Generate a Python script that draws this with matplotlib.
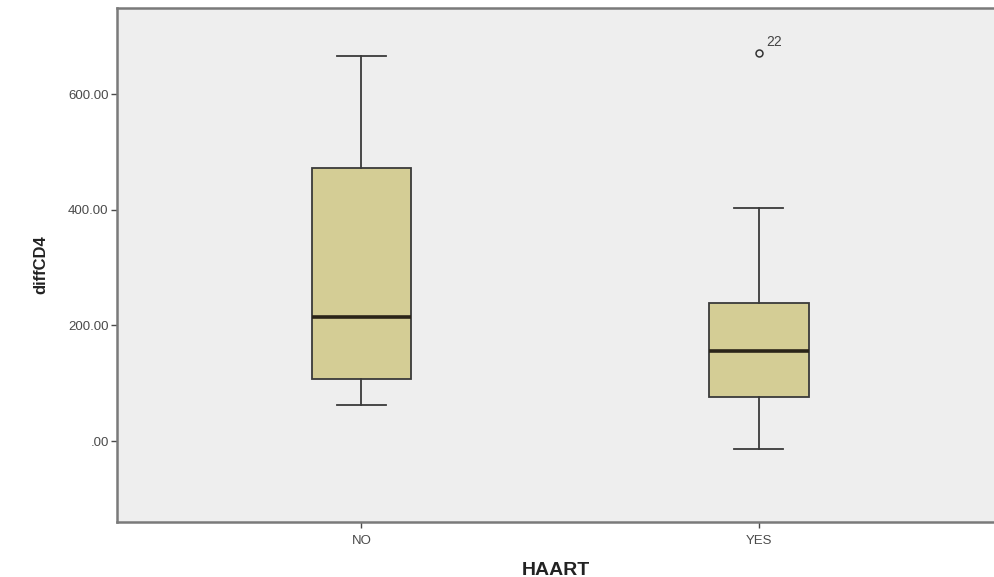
import matplotlib
matplotlib.use("Agg")
import matplotlib.pyplot as plt

categories = ["NO", "YES"]
whislo = [62, -14]
q1 = [107, 76]
med = [215, 156]
q3 = [472, 239]
whishi = [666, 403]
outlier_vals = [[], [672]]
outlier_labels = [[], ["22"]]
yticks = [0, 200, 400, 600]
ytick_labels = [".00", "200.00", "400.00", "600.00"]

plt.rcParams['font.family'] = ['Liberation Sans', 'DejaVu Sans']

fig = plt.figure(figsize=(9.94, 5.77), dpi=100)
ax = fig.add_axes([0.1177, 0.0953, 0.8833, 0.8908])
ax.set_facecolor('#eeeeee')

stats = []
for i, c in enumerate(categories):
    stats.append(dict(label=c, whislo=whislo[i], q1=q1[i], med=med[i],
                      q3=q3[i], whishi=whishi[i], fliers=outlier_vals[i]))

positions = list(range(1, len(categories) + 1))
bp = ax.bxp(stats, positions=positions, widths=0.25, patch_artist=True,
            boxprops=dict(facecolor='#d4cd95', edgecolor='#3a3a3a', linewidth=1.3),
            medianprops=dict(color='#2a2418', linewidth=2.6),
            whiskerprops=dict(color='#3a3a3a', linewidth=1.3),
            capprops=dict(color='#3a3a3a', linewidth=1.3),
            capwidths=0.123,
            flierprops=dict(marker='o', markerfacecolor='none', markeredgecolor='#333333',
                            markersize=5, markeredgewidth=1.1))

for i, p in enumerate(positions):
    for v, lab in zip(outlier_vals[i], outlier_labels[i]):
        ax.annotate(lab, (p, v), xytext=(5, 5), textcoords='offset points',
                    fontsize=10, color='#444444')

ax.set_xlim(0.385, 2.594)
ax.set_ylim(-140, 749)
ax.set_yticks(yticks)
ax.set_yticklabels(ytick_labels)
ax.set_xticks(positions)
ax.set_xticklabels(categories)
ax.tick_params(axis='both', labelsize=9.5, colors='#4a4a4a', length=4, width=1)
ax.tick_params(axis='x', pad=5)
ax.tick_params(axis='y', pad=2)
for s in ['left', 'bottom', 'top']:
    ax.spines[s].set_color('#7a7a7a')
    ax.spines[s].set_linewidth(1.8)
ax.spines['right'].set_visible(False)

ax.set_ylabel('diffCD4', fontsize=12, fontweight='bold', color='#222222', labelpad=14)
ax.set_xlabel('HAART', fontsize=14, fontweight='bold', color='#222222', labelpad=11)

fig.savefig('out.png', dpi=100, facecolor='white')
